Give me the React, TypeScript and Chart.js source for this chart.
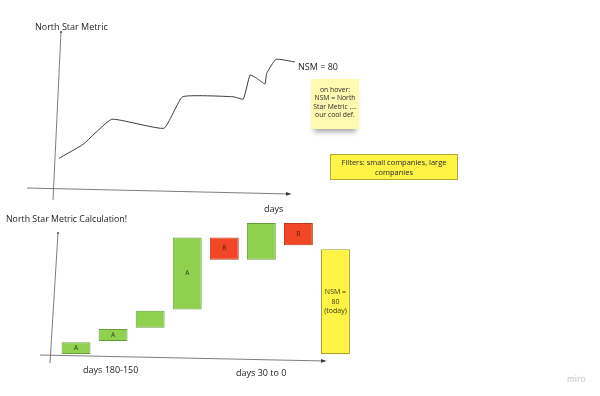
import React, { useEffect, useRef } from "react";
import { Chart, registerables } from "chart.js";
Chart.register(...registerables);

// ---- Top chart: North Star Metric trend ----
const trendDays = [0, 18.5, 40.2, 80.1, 94.3, 132.9, 140.6, 145.7, 150.8, 157.1, 158.4, 165.5, 180];
const trendNSM = [19.8, 28.6, 44.2, 38.6, 58.3, 58.3, 56.9, 71.9, 69.8, 66.3, 72.9, 81.7, 80];

// ---- Bottom chart: North Star Metric calculation ----
const stepNames = ["180-150", "150-120", "120-90", "90-60", "60-30 B", "30-0", "30-0 B", "today"];
const stepLow = [0, 10, 20, 34, 72, 72, 83, 0];
const stepHigh = [9, 19, 33, 89, 89, 100, 100, 80];
const stepLabels = ["A", "A", "", "A", "B", "", "B", "NSM =\n80\n(today)"];
const stepKinds = ["A", "A", "A", "A", "B", "A", "B", "NSM"];

const FONT = "'Open Sans', 'Noto Sans', sans-serif";
const kindFill: Record<string, string> = { A: "#8fd14f", B: "#f24726", NSM: "#fef445" };
const kindBorder: Record<string, string> = { A: "#6a9e3c", B: "#b8391d", NSM: "#a59d2c" };
const kindText: Record<string, string> = { A: "#2b3a1e", B: "#5a1a0c", NSM: "#3a3814" };

type AxisCfg = {
  yTop: [number, number];
  yBottom: [number, number];
  xStart: [number, number];
  xEnd: [number, number];
};

function sketchAxes(cfg: AxisCfg) {
  return {
    id: "sketchAxes",
    beforeDatasetsDraw(chart: any) {
      const { ctx, chartArea: a } = chart;
      ctx.save();
      ctx.strokeStyle = "#5c5c5c";
      ctx.fillStyle = "#3c3c3c";
      ctx.lineWidth = 0.8;
      ctx.beginPath();
      ctx.moveTo(a.left + cfg.yTop[0], a.top + cfg.yTop[1]);
      ctx.lineTo(a.left + cfg.yBottom[0], a.bottom + cfg.yBottom[1]);
      ctx.stroke();
      const x0 = a.left + cfg.xStart[0], y0 = a.bottom + cfg.xStart[1];
      const x1 = a.right + cfg.xEnd[0], y1 = a.bottom + cfg.xEnd[1];
      ctx.beginPath();
      ctx.moveTo(x0, y0);
      ctx.lineTo(x1, y1);
      ctx.stroke();
      const ang = Math.atan2(y1 - y0, x1 - x0);
      ctx.beginPath();
      ctx.moveTo(x1 + 1.5 * Math.cos(ang), y1 + 1.5 * Math.sin(ang));
      ctx.lineTo(x1 - 4 * Math.cos(ang) - 1.8 * Math.sin(ang), y1 - 4 * Math.sin(ang) + 1.8 * Math.cos(ang));
      ctx.lineTo(x1 - 4 * Math.cos(ang) + 1.8 * Math.sin(ang), y1 - 4 * Math.sin(ang) - 1.8 * Math.cos(ang));
      ctx.closePath();
      ctx.fill();
      ctx.beginPath();
      ctx.arc(a.left + cfg.yTop[0], a.top + cfg.yTop[1], 0.9, 0, Math.PI * 2);
      ctx.fill();
      ctx.restore();
    },
  };
}

const barLabelPlugin = {
  id: "barLabels",
  afterDatasetsDraw(chart: any) {
    const { ctx } = chart;
    const meta = chart.getDatasetMeta(0);
    ctx.save();
    ctx.textAlign = "center";
    ctx.textBaseline = "middle";
    meta.data.forEach((el: any, i: number) => {
      const text = stepLabels[i];
      if (!text) return;
      const lines = text.split("\n");
      const cy = (el.y + el.base) / 2;
      const lh = 9.5;
      ctx.font = `${lines.length > 1 ? 7 : 6.5}px ${FONT}`;
      ctx.fillStyle = kindText[stepKinds[i]];
      lines.forEach((ln, j) => {
        ctx.fillText(ln, el.x, cy + (j - (lines.length - 1) / 2) * lh);
      });
    });
    ctx.restore();
  },
};

function TrendChart() {
  const ref = useRef<HTMLCanvasElement>(null);
  useEffect(() => {
    if (!ref.current) return;
    const chart = new Chart(ref.current, {
      type: "line",
      data: {
        datasets: [
          {
            data: trendDays.map((d, i) => ({ x: d, y: trendNSM[i] })),
            borderColor: "#3a3a3a",
            borderWidth: 1,
            pointRadius: 0,
            tension: 0.12,
            fill: false,
          },
        ],
      },
      options: {
        responsive: false,
        animation: false,
        layout: { padding: { left: 59, right: 305, top: 30, bottom: 10 } },
        plugins: { legend: { display: false }, tooltip: { enabled: false }, title: { display: false } },
        scales: {
          x: { type: "linear", min: 0, max: 180, display: false },
          y: { type: "linear", min: 0, max: 100, display: false },
        },
      },
      plugins: [sketchAxes({ yTop: [2, 2], yBottom: [-6, 10], xStart: [-32, -2], xEnd: [-5, 4] })],
    } as any);
    return () => chart.destroy();
  }, []);
  return <canvas ref={ref} width={600} height={200} style={{ position: "absolute", left: 0, top: 0 }} />;
}

function CalcChart() {
  const ref = useRef<HTMLCanvasElement>(null);
  useEffect(() => {
    if (!ref.current) return;
    const chart = new Chart(ref.current, {
      type: "bar",
      data: {
        labels: stepNames,
        datasets: [
          {
            data: stepLow.map((lo, i) => [lo, stepHigh[i]]),
            backgroundColor: stepKinds.map((k) => kindFill[k]),
            borderColor: stepKinds.map((k) => kindBorder[k]),
            borderWidth: 1,
            borderSkipped: false,
            barPercentage: 0.78,
            categoryPercentage: 1,
          },
        ],
      },
      options: {
        responsive: false,
        animation: false,
        layout: { padding: { left: 57.5, right: 246, top: 23, bottom: 42 } },
        plugins: { legend: { display: false }, tooltip: { enabled: false }, title: { display: false } },
        scales: {
          x: { type: "category", display: false },
          y: { type: "linear", min: 0, max: 100, display: false },
        },
      },
      plugins: [
        sketchAxes({ yTop: [0.5, 10], yBottom: [-7.5, 9], xStart: [-17.5, 1], xEnd: [-29, 7] }),
        barLabelPlugin,
      ],
    } as any);
    return () => chart.destroy();
  }, []);
  return <canvas ref={ref} width={600} height={196} style={{ position: "absolute", left: 0, top: 200 }} />;
}

function Txt(props: { x: number; y: number; size: number; children: React.ReactNode; color?: string }) {
  return (
    <div
      style={{
        position: "absolute",
        left: props.x,
        top: props.y - props.size * 0.7,
        fontFamily: FONT,
        fontSize: props.size,
        lineHeight: `${props.size * 1.4}px`,
        color: props.color || "#222",
        whiteSpace: "nowrap",
      }}
    >
      {props.children}
    </div>
  );
}

export default function App() {
  return (
    <div style={{ position: "absolute", left: 0, top: 0, width: 600, height: 396, background: "#fff", overflow: "hidden" }}>
      <TrendChart />
      <CalcChart />
      <Txt x={35} y={27} size={9}>North Star Metric</Txt>
      <Txt x={298} y={67} size={9}>NSM = 80</Txt>
      <div
        style={{
          position: "absolute",
          left: 311,
          top: 79,
          width: 48,
          height: 50,
          background: "#fff9b1",
          boxShadow: "0 6px 5px -3px rgba(0,0,0,0.35)",
          fontFamily: FONT,
          fontSize: 6.8,
          lineHeight: "8.3px",
          color: "#2a2a2a",
          textAlign: "center",
          boxSizing: "border-box",
          paddingTop: 7,
        }}
      >
        on hover:
        <br />
        NSM = North
        <br />
        Star Metric ....
        <br />
        our cool def.
      </div>
      <div
        style={{
          position: "absolute",
          left: 330,
          top: 154,
          width: 128,
          height: 26,
          background: "#fef445",
          border: "1px solid #b0a632",
          boxSizing: "border-box",
          fontFamily: FONT,
          fontSize: 7.5,
          lineHeight: "9.5px",
          color: "#2a2a2a",
          textAlign: "center",
          paddingTop: 3,
        }}
      >
        Filters: small companies, large
        <br />
        companies
      </div>
      <Txt x={264} y={209} size={9}>days</Txt>
      <Txt x={6} y={219} size={8.8}>North Star Metric Calculation!</Txt>
      <Txt x={83} y={370} size={9}>days 180-150</Txt>
      <Txt x={236} y={373} size={9}>days 30 to 0</Txt>
      <Txt x={567} y={379} size={8.5} color="#c4c4c4">miro</Txt>
    </div>
  );
}
